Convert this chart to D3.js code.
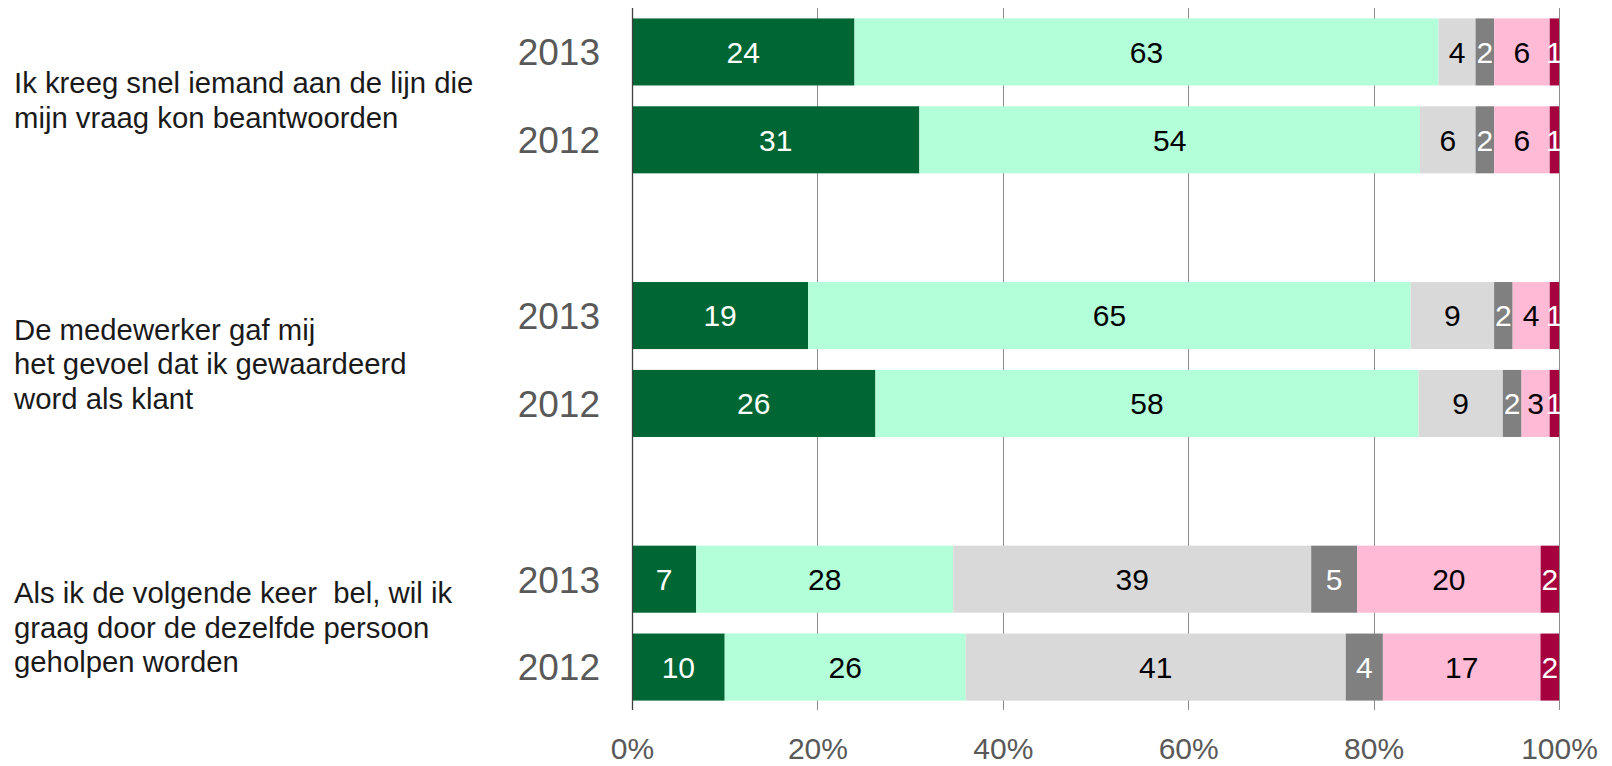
<!DOCTYPE html>
<html>
<head>
<meta charset="utf-8">
<script src="https://cdn.jsdelivr.net/npm/d3@7/dist/d3.min.js"></script>
<style>
  html, body { margin: 0; padding: 0; background: #fff; }
  svg { display: block; font-family: "Liberation Sans", Arial, sans-serif; }
  text { white-space: pre; }
</style>
</head>
<body>
<svg id="chart" width="1612" height="766"></svg>
<script>
// Survey statements (one per group, split into display lines)
const questions = [
  ["Ik kreeg snel iemand aan de lijn die", "mijn vraag kon beantwoorden"],
  ["De medewerker gaf mij", "het gevoel dat ik gewaardeerd", "word als klant"],
  ["Als ik de volgende keer  bel, wil ik", "graag door de dezelfde persoon", "geholpen worden"]
];
const years = ["2013", "2012"];

// Answer shares per row, in row order: Q1-2013, Q1-2012, Q2-2013, Q2-2012, Q3-2013, Q3-2012
const helemaalEens   = [24, 31, 19, 26, 7, 10];
const eens           = [63, 54, 65, 58, 28, 26];
const neutraal       = [4, 6, 9, 9, 39, 41];
const weetNiet       = [2, 2, 2, 2, 5, 4];
const oneens         = [6, 6, 4, 3, 20, 17];
const helemaalOneens = [1, 1, 1, 1, 2, 2];

const tickValues = [0, 0.2, 0.4, 0.6, 0.8, 1.0];

const seriesDefs = [
  { key: "helemaalEens",   values: helemaalEens,   fill: "#006633", text: "#ffffff" },
  { key: "eens",           values: eens,           fill: "#b3ffd9", text: "#000000" },
  { key: "neutraal",       values: neutraal,       fill: "#d9d9d9", text: "#000000" },
  { key: "weetNiet",       values: weetNiet,       fill: "#808080", text: "#ffffff" },
  { key: "oneens",         values: oneens,         fill: "#ffbbd5", text: "#000000" },
  { key: "helemaalOneens", values: helemaalOneens, fill: "#a6003f", text: "#ffffff" }
];

// Build one record per bar
const rows = [];
questions.forEach((q, qi) => {
  years.forEach((y, yi) => {
    const idx = qi * years.length + yi;
    const r = { id: `q${qi}-${y}`, question: qi, year: y };
    seriesDefs.forEach(s => { r[s.key] = s.values[idx]; });
    rows.push(r);
  });
});

// Band domain with an empty slot between statement groups
const slots = [];
questions.forEach((q, qi) => {
  years.forEach(y => slots.push(`q${qi}-${y}`));
  if (qi < questions.length - 1) slots.push(`gap${qi}`);
});

const svg = d3.select("#chart");
const plot = { left: 632, right: 1559, top: 8, bottom: 711 };

const x = d3.scaleLinear().domain([0, 1]).range([plot.left, plot.right]);
const y = d3.scaleBand().domain(slots).range([plot.top, plot.bottom])
  .paddingInner(0.237).paddingOuter(0.1185);

// 100% stacked layout
const stack = d3.stack().keys(seriesDefs.map(s => s.key)).offset(d3.stackOffsetExpand);
const stacked = stack(rows);

// Gridlines
const gridBottom = 710;
svg.append("g")
  .selectAll("line")
  .data(tickValues.filter(t => t > 0))
  .join("line")
  .attr("x1", d => Math.round(x(d)) + 0.5)
  .attr("x2", d => Math.round(x(d)) + 0.5)
  .attr("y1", plot.top)
  .attr("y2", gridBottom)
  .attr("stroke", "#8c8c8c")
  .attr("stroke-width", 1);

// Bars
const layers = svg.append("g").selectAll("g")
  .data(stacked)
  .join("g")
  .attr("fill", (d, i) => seriesDefs[i].fill);

layers.selectAll("rect")
  .data(d => d)
  .join("rect")
  .attr("x", d => x(d[0]))
  .attr("y", d => y(d.data.id))
  .attr("width", d => x(d[1]) - x(d[0]))
  .attr("height", y.bandwidth());

// Value labels
const labels = svg.append("g").attr("font-size", 30).attr("text-anchor", "middle");
stacked.forEach((layer, i) => {
  labels.append("g")
    .attr("fill", seriesDefs[i].text)
    .selectAll("text")
    .data(layer)
    .join("text")
    .attr("x", d => (x(d[0]) + x(d[1])) / 2)
    .attr("y", d => y(d.data.id) + y.bandwidth() / 2)
    .attr("dy", "0.36em")
    .text(d => d.data[layer.key]);
});

// Left axis line
svg.append("line")
  .attr("x1", plot.left + 0.5).attr("x2", plot.left + 0.5)
  .attr("y1", plot.top).attr("y2", gridBottom)
  .attr("stroke", "#404040").attr("stroke-width", 1.3);

// Percentage axis
const xAxis = d3.axisBottom(x).tickValues(tickValues).tickFormat(d3.format(".0%")).tickSize(0).tickPadding(0);
const xg = svg.append("g").attr("transform", `translate(0, ${gridBottom})`).call(xAxis);
xg.select(".domain").remove();
xg.selectAll("text")
  .attr("font-size", 30)
  .attr("font-family", "\"Liberation Sans\", Arial, sans-serif")
  .attr("fill", "#595959")
  .attr("dy", null)
  .attr("y", 49);

// Year labels
svg.append("g")
  .selectAll("text")
  .data(rows)
  .join("text")
  .attr("x", 600)
  .attr("y", d => y(d.id) + y.bandwidth() / 2)
  .attr("dy", "0.36em")
  .attr("text-anchor", "end")
  .attr("font-size", 37)
  .attr("fill", "#595959")
  .text(d => d.year);

// Statement labels, centred on their group
const lineHeight = 34.5;
const qg = svg.append("g").attr("font-size", 29.3).attr("fill", "#1a1a1a");
questions.forEach((lines, qi) => {
  const top = y(`q${qi}-${years[0]}`);
  const bottom = y(`q${qi}-${years[years.length - 1]}`) + y.bandwidth();
  const centre = (top + bottom) / 2 + 4;
  const first = centre - (lines.length - 1) * lineHeight / 2;
  const t = qg.append("text").attr("x", 14);
  lines.forEach((ln, li) => {
    t.append("tspan")
      .attr("x", 14)
      .attr("y", first + li * lineHeight)
      .attr("dy", "0.36em")
      .text(ln);
  });
});
</script>
</body>
</html>
